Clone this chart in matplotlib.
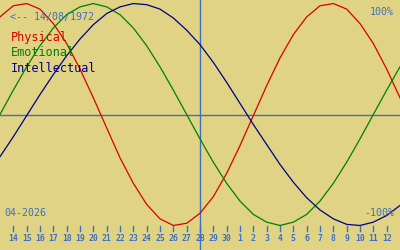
import matplotlib
matplotlib.use("Agg")
import matplotlib.pyplot as plt

# Day labels shown on the axis (index 0..28)
day_labels = ["14", "15", "16", "17", "18", "19", "20", "21", "22", "23", "24",
              "25", "26", "27", "28", "29", "30", "1", "2", "3", "4", "5", "6",
              "7", "8", "9", "10", "11", "12"]
# Sample positions (day index) from -1 to 29
days = list(range(-1, 30))
physical = [88, 98, 100, 95, 82, 64, 41, 15, -12, -39, -62, -81, -94, -100, -98,
            -89, -74, -53, -28, -1, 26, 51, 72, 88, 98, 100, 95, 82, 64, 41, 15]
emotional = [0, 22, 43, 62, 78, 90, 97, 100, 97, 90, 78, 62, 43, 22, 0, -22, -43,
             -62, -78, -90, -97, -100, -97, -90, -78, -62, -43, -22, 0, 22, 43]
intellectual = [-38, -20, -1, 18, 36, 53, 68, 81, 91, 97, 100, 99, 95, 87, 76, 63,
                47, 29, 10, -9, -27, -45, -61, -75, -86, -94, -99, -100, -97, -91, -82]
today_index = 14
birth_text = "<-- 14/08/1972"
month_text = "04-2026"
names = ["Physical", "Emotional", "Intellectual"]

BG = "#e0d384"
BLUE = "#3c70c4"
colors = ["#d80000", "#008000", "#000088"]

fig = plt.figure(figsize=(4, 2.5), dpi=100, facecolor=BG)
ax = fig.add_axes([0, 0, 1, 1])
ax.set_facecolor(BG)
ax.set_xlim(-1, 29)
ax.set_ylim(-122.1, 103.2)
for s in ax.spines.values():
    s.set_visible(False)
ax.set_xticks([])
ax.set_yticks([])

ax.axhline(0, color=BLUE, lw=1.0, zorder=1)
ax.axvline(today_index, color=BLUE, lw=1.0, zorder=1)

for vals, c in zip([physical, emotional, intellectual], colors):
    ax.plot(days, vals, color=c, lw=0.9, zorder=2)

mono = "DejaVu Sans Mono"
# tick marks and labels
for i, lab in enumerate(day_labels):
    ax.plot([i, i], [-100.5, -105], color=BLUE, lw=1.0, clip_on=False, zorder=3)
    ax.text(i, -111.5, lab, color=BLUE, fontsize=5.9, family=mono, weight="bold",
            ha="center", va="center")

ax.text(0.025, 0.932, birth_text, transform=ax.transAxes, color=BLUE,
        fontsize=7.2, family=mono, ha="left", va="center")
for k, (n, c) in enumerate(zip(names, colors)):
    ax.text(0.027, 0.848 - k * 0.06, n, transform=ax.transAxes, color=c,
            fontsize=8.6, family=mono, ha="left", va="center")
ax.text(0.985, 0.952, "100%", transform=ax.transAxes, color=BLUE,
        fontsize=7.2, family=mono, ha="right", va="center")
ax.text(0.985, 0.15, "-100%", transform=ax.transAxes, color=BLUE,
        fontsize=7.2, family=mono, ha="right", va="center")
ax.text(0.01, 0.15, month_text, transform=ax.transAxes, color=BLUE,
        fontsize=7.2, family=mono, ha="left", va="center")

fig.savefig("out.png", dpi=100, facecolor=BG)
